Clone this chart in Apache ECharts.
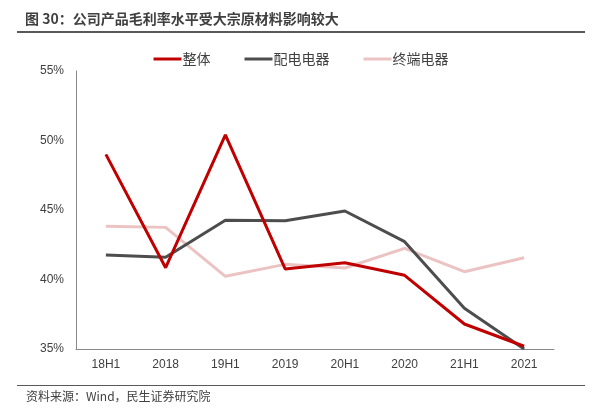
<!DOCTYPE html>
<html><head><meta charset="utf-8">
<script src="https://cdn.jsdelivr.net/npm/echarts@6/dist/echarts.min.js"></script>
<style>html,body{margin:0;padding:0;background:#fff}#c{width:602px;height:416px}</style>
</head><body><div id="c"></div>
<script>
const categories = ['18H1','2018','19H1','2019','20H1','2020','21H1','2021'];
const overall = [49.0, 40.85, 50.4, 40.76, 41.2, 40.3, 36.8, 35.2];
const distribution = [41.76, 41.6, 44.26, 44.23, 44.93, 42.72, 37.93, 35.0];
const terminal = [43.83, 43.75, 40.23, 41.09, 40.83, 42.24, 40.56, 41.57];
const yTicks = {min: 35, max: 55, interval: 5};

const FONT = '"Noto Sans CJK SC", "Microsoft YaHei", sans-serif';
const chart = echarts.init(document.getElementById('c'), null, {renderer: 'canvas'});
chart.setOption({
  animation: false,
  textStyle: {fontFamily: FONT},
  graphic: [
    {type: 'text', left: 25, top: 12, style: {text: '图 30：公司产品毛利率水平受大宗原材料影响较大', font: 'bold 14px ' + FONT, fill: '#404040'}},
    {type: 'rect', shape: {x: 17, y: 31, width: 568, height: 2}, style: {fill: '#595959'}},
    {type: 'rect', shape: {x: 17, y: 385, width: 568, height: 1}, style: {fill: '#595959'}},
    {type: 'text', left: 26, top: 390, style: {text: '资料来源：Wind，民生证券研究院', font: '12px ' + FONT, fill: '#404040'}}
  ],
  legend: {
    top: 47, left: 'center',
    itemWidth: 28, itemHeight: 3, itemGap: 34,
    icon: 'rect',
    textStyle: {fontSize: 14, color: '#404040', fontFamily: FONT, padding: [0,0,0,-4]},
    data: ['整体','配电电器','终端电器']
  },
  grid: {left: 76, right: 48, top: 71, bottom: 67},
  xAxis: {
    type: 'category', data: categories, boundaryGap: true,
    axisLine: {lineStyle: {color: '#898989', width: 1}},
    axisTick: {show: false},
    axisLabel: {color: '#404040', fontSize: 12, margin: 10, fontFamily: 'Arial, "Liberation Sans", sans-serif'}
  },
  yAxis: {
    type: 'value', min: yTicks.min, max: yTicks.max, interval: yTicks.interval,
    axisLine: {show: true, lineStyle: {color: '#898989', width: 1}},
    axisTick: {show: false},
    splitLine: {show: false},
    axisLabel: {color: '#404040', fontSize: 12, margin: 12, formatter: '{value}%', fontFamily: 'Arial, "Liberation Sans", sans-serif'}
  },
  series: [
    {name: '整体', type: 'line', data: overall, symbol: 'none', lineStyle: {color: '#C00000', width: 3}, itemStyle: {color: '#C00000'}, z: 3},
    {name: '配电电器', type: 'line', data: distribution, symbol: 'none', lineStyle: {color: '#4D4D4D', width: 3}, itemStyle: {color: '#4D4D4D'}, z: 2},
    {name: '终端电器', type: 'line', data: terminal, symbol: 'none', lineStyle: {color: '#EBC3C3', width: 3}, itemStyle: {color: '#EBC3C3'}, z: 1}
  ]
});
</script></body></html>
